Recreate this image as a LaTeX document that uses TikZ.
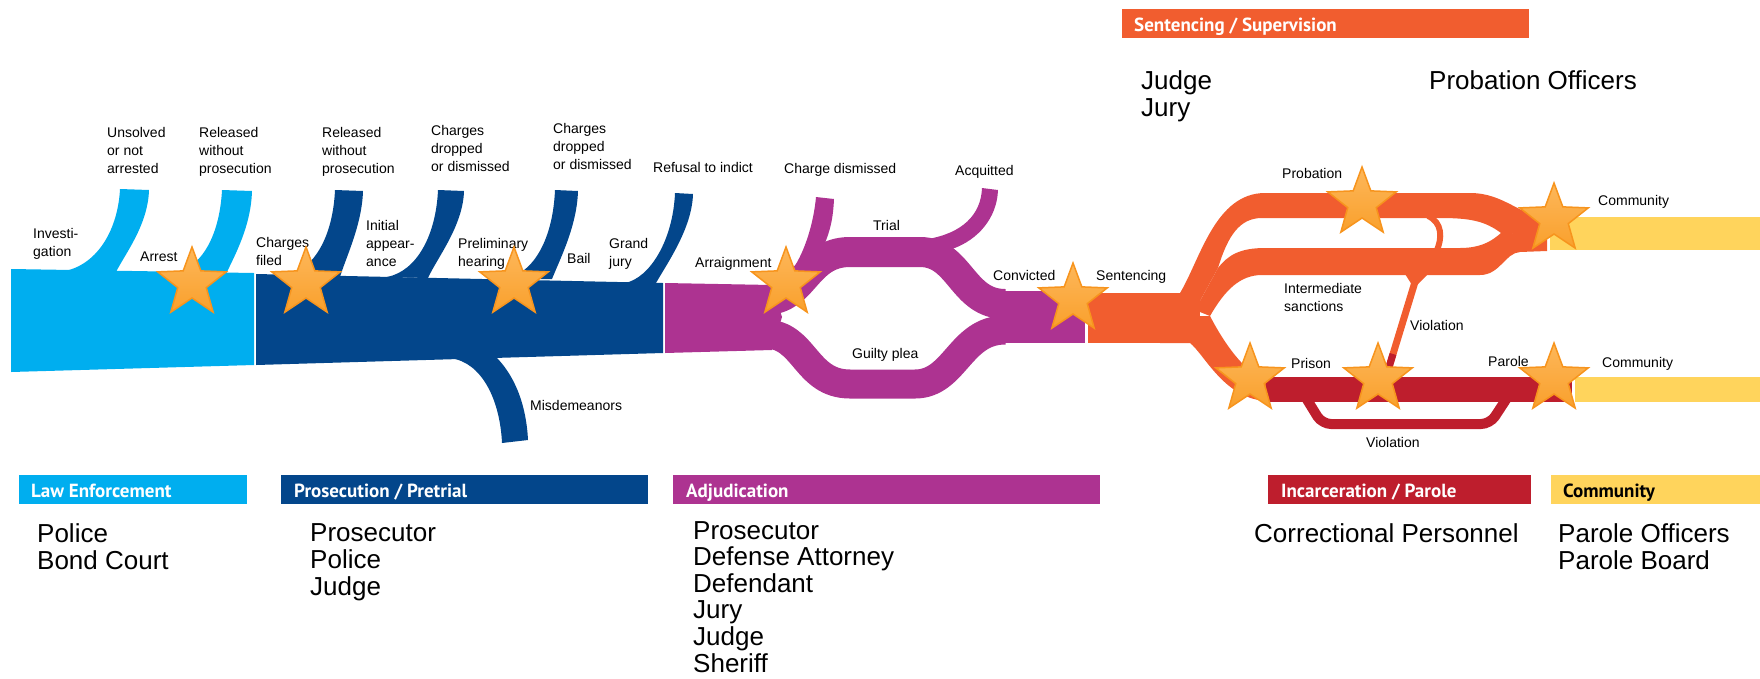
\documentclass[tikz,border=0pt]{standalone}
\usepackage{fontspec}
\setmainfont{Liberation Sans}
\newfontfamily\headfont{PT Sans}
\usetikzlibrary{shapes.geometric}
\definecolor{lawblue}{HTML}{00AEEF}
\definecolor{prosblue}{HTML}{03468B}
\definecolor{adjpurple}{HTML}{AD3391}
\definecolor{sentorange}{HTML}{F15D2F}
\definecolor{prisonred}{HTML}{BE1E2D}
\definecolor{commyellow}{HTML}{FFD45C}
\definecolor{starlight}{HTML}{FDB75A}
\definecolor{stardark}{HTML}{F9A02C}
\definecolor{staredge}{HTML}{F7941D}
\tikzset{
lbl/.style={font=\fontsize{14}{18}\selectfont, align=left, inner sep=0pt, anchor=north west},
rolelist/.style={font=\fontsize{26}{27}\selectfont, align=left, inner sep=0pt, anchor=north west},
stagebar/.style={font=\headfont\bfseries\fontsize{19}{19}\selectfont, text=white, inner sep=0pt, anchor=base west},
starnode/.style={star, star points=5, star point ratio=2.4, minimum size=72pt, inner sep=0pt, draw=staredge, line width=1.5pt, top color=starlight, bottom color=stardark},
}
\begin{document}
\begin{tikzpicture}[x=1pt,y=-1pt]
\useasboundingbox (0,0) rectangle (1760,678);

% law enforcement
\fill[lawblue] (11,269) -- (254,273) -- (254,365) -- (11,372) -- cycle;
\fill[lawblue] (65,271) .. controls (98,264) and (118,229) .. (120,189) -- (149,190) .. controls (148,225) and (125,254) .. (116,272) -- cycle;
\fill[lawblue] (175,273) .. controls (205,266) and (220,230) .. (222,190) -- (252,191) .. controls (251,226) and (235,255) .. (226,274) -- cycle;

% prosecution
\fill[prosblue] (256,274) -- (663,283) -- (663,353) -- (256,365) -- cycle;
\fill[prosblue] (285,276) .. controls (315,270) and (333,235) .. (335,190) -- (363,191) .. controls (362,225) and (346,257) .. (340,277) -- cycle;
\fill[prosblue] (387,277) .. controls (417,271) and (436,235) .. (438,190) -- (464,191) .. controls (463,226) and (437,258) .. (428,278) -- cycle;
\fill[prosblue] (505,279) .. controls (535,273) and (553,237) .. (555,190) -- (578,191) .. controls (577,226) and (560,259) .. (552,279) -- cycle;
\fill[prosblue] (625,283) .. controls (650,278) and (673,240) .. (675,193) -- (693,194) .. controls (692,228) and (668,262) .. (656,283) -- cycle;
\fill[prosblue] (450,358) .. controls (482,362) and (500,400) .. (502,443) -- (528,440) .. controls (526,400) and (512,372) .. (494,355) -- cycle;

% adjudication
\fill[adjpurple] (665,283) -- (772,285) -- (782,317) -- (772,350) -- (665,353) -- cycle;
\draw[adjpurple, line width=30pt] (765,300) .. controls (805,300) and (805,252) .. (850,252) -- (920,252) .. controls (960,252) and (962,304) .. (1005,304);
\draw[adjpurple, line width=29pt] (765,334) .. controls (805,334) and (805,384) .. (850,384) -- (915,384) .. controls (955,384) and (960,330) .. (1005,330);
\fill[adjpurple] (770,287) .. controls (792,284) and (812,240) .. (816,197) -- (834,199) .. controls (833,220) and (830,232) .. (822,250) -- (800,290) -- cycle;
\fill[adjpurple] (928,239) .. controls (962,233) and (981,215) .. (982,188) -- (998,190) .. controls (997,218) and (978,240) .. (952,249) -- (930,252) -- cycle;
\fill[adjpurple] (995,291) rectangle (1085,343);

% sentencing / supervision
\fill[sentorange] (1088,293) rectangle (1200,343);
\fill[sentorange] (1180,293) .. controls (1200,260) and (1215,193) .. (1265,193) -- (1470,193) .. controls (1505,193) and (1520,217) .. (1547,216) -- (1547,236) -- (1501,233) .. controls (1485,221) and (1470,218) .. (1440,218) -- (1262,218) .. controls (1240,218) and (1228,235) .. (1218,268) -- (1195,310) -- (1175,310) -- cycle;
\fill[sentorange] (1195,310) -- (1218,268) .. controls (1228,255) and (1240,248) .. (1265,248) -- (1460,248) .. controls (1482,248) and (1493,240) .. (1501,233) -- (1547,234) -- (1547,251) -- (1520,252) .. controls (1505,253) and (1500,275) .. (1480,275) -- (1262,275) .. controls (1240,275) and (1225,290) .. (1210,316) -- cycle;
\fill[sentorange] (1160,343) -- (1190,343) .. controls (1205,355) and (1225,400) .. (1268,401) -- (1268,377) -- (1262,377) .. controls (1245,372) and (1225,345) .. (1210,316) -- (1160,316) -- cycle;
\draw[sentorange, line width=6pt] (1428,216) .. controls (1442,222) and (1443,238) .. (1436,252);
\draw[sentorange, line width=7pt] (1418,272) -- (1386,377);
\fill[sentorange] (1405,274) -- (1428,274) -- (1414,288) -- cycle;
\draw[prisonred, line width=7pt] (1393,354) -- (1386,377);

% incarceration / parole
\fill[prisonred] (1266,377) rectangle (1572,402);
\draw[prisonred, line width=10pt, rounded corners=9pt] (1306,398) -- (1322,424) -- (1490,424) -- (1507,398);

% community
\fill[commyellow] (1550,217) rectangle (1760,250);
\fill[commyellow] (1575,377) rectangle (1760,402);

% stage labels
\node[lbl] (unsolved) at (107,127) {Unsolved\\or not\\arrested};
\node[lbl] (released1) at (199,127) {Released\\without\\prosecution};
\node[lbl] (investigation) at (33,228) {Investi-\\gation};
\node[lbl] (arrest) at (140,252) {Arrest};
\node[lbl] (charges) at (256,237) {Charges\\filed};
\node[lbl] (released2) at (322,127) {Released\\without\\prosecution};
\node[lbl] (initial) at (366,220) {Initial\\appear-\\ance};
\node[lbl] (dropped1) at (431,125) {Charges\\dropped\\or dismissed};
\node[lbl] (dropped2) at (553,123) {Charges\\dropped\\or dismissed};
\node[lbl] (refusal) at (653,162) {Refusal to indict};
\node[lbl] (prelim) at (458,238) {Preliminary\\hearing};
\node[lbl] (bail) at (567,253) {Bail};
\node[lbl] (grandjury) at (609,238) {Grand\\jury};
\node[lbl] (arraign) at (695,257) {Arraignment};
\node[lbl] (misdem) at (530,400) {Misdemeanors};
\node[lbl] (dismissed) at (784,163) {Charge dismissed};
\node[lbl] (acquitted) at (955,165) {Acquitted};
\node[lbl] (trial) at (873,220) {Trial};
\node[lbl] (convicted) at (993,270) {Convicted};
\node[lbl] (guilty) at (852,348) {Guilty plea};
\node[lbl] (sentencing) at (1096,270) {Sentencing};
\node[lbl] (probation) at (1282,168) {Probation};
\node[lbl] (community1) at (1598,195) {Community};
\node[lbl] (intermediate) at (1284,283) {Intermediate\\sanctions};
\node[lbl] (violation1) at (1410,320) {Violation};
\node[lbl] (prison) at (1291,358) {Prison};
\node[lbl] (parole) at (1488,356) {Parole};
\node[lbl] (community2) at (1602,357) {Community};
\node[lbl] (violation2) at (1366,437) {Violation};

% stars
\node[starnode] (starArrest) at (192,283) {};
\node[starnode] (starCharges) at (306,283) {};
\node[starnode] (starPrelim) at (514,283) {};
\node[starnode] (starArraign) at (786,283) {};
\node[starnode] (starConvicted) at (1073,299) {};
\node[starnode] (starProbation) at (1362,203) {};
\node[starnode] (starCommunity) at (1554,219) {};
\node[starnode] (starPrison) at (1250,379) {};
\node[starnode] (starViolation) at (1378,379) {};
\node[starnode] (starParole) at (1554,379) {};

% stage bars
\fill[lawblue] (19,475) rectangle (247,504);
\node[stagebar] (lawbar) at (31,497) {Law Enforcement};
\fill[prosblue] (281,475) rectangle (648,504);
\node[stagebar] (prosbar) at (294,497) {Prosecution / Pretrial};
\fill[adjpurple] (673,475) rectangle (1100,504);
\node[stagebar] (adjbar) at (686,497) {Adjudication};
\fill[prisonred] (1268,475) rectangle (1531,504);
\node[stagebar] (incbar) at (1281,497) {Incarceration / Parole};
\fill[commyellow] (1551,475) rectangle (1760,504);
\node[stagebar, text=black] (commbar) at (1563,497) {Community};
\fill[sentorange] (1122,9) rectangle (1529,38);
\node[stagebar] (sentbar) at (1134,31) {Sentencing / Supervision};

% roles
\node[rolelist] (lawroles) at (37,523) {Police\\Bond Court};
\node[rolelist] (prosroles) at (310,523) {Prosecutor\\Police\\Judge};
\node[rolelist, font=\fontsize{26}{26.6}\selectfont] (adjroles) at (693,521) {Prosecutor\\Defense Attorney\\Defendant\\Jury\\Judge\\Sheriff};
\node[rolelist] (incroles) at (1254,523) {Correctional Personnel};
\node[rolelist] (commroles) at (1558,523) {Parole Officers\\Parole Board};
\node[rolelist] (sentroles) at (1141,70) {Judge\\Jury};
\node[rolelist] (probroles) at (1429,70) {Probation Officers};
\end{tikzpicture}
\end{document}
